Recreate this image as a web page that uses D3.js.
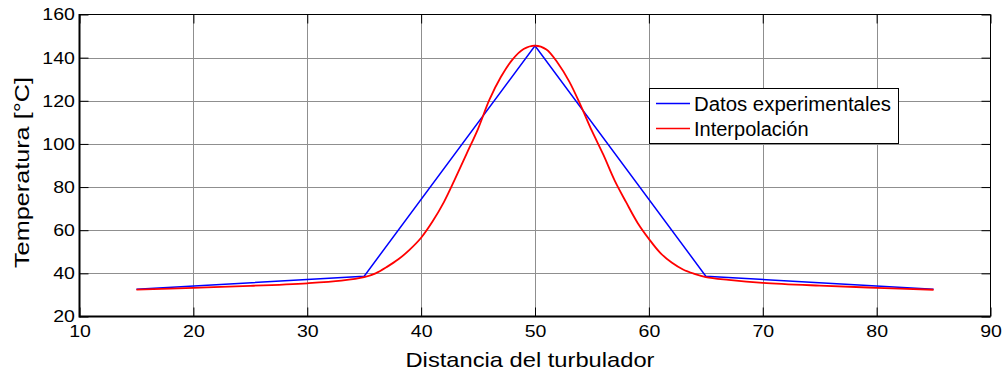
<!DOCTYPE html>
<html><head><meta charset="utf-8">
<script src="https://cdn.jsdelivr.net/npm/d3@7"></script>
<style>
body{margin:0;background:#fff;}
text{font-family:"Liberation Sans",Arial,sans-serif;fill:#000;}
</style></head><body>
<svg id="c" width="1007" height="372"></svg>
<script>
const xTicks = [10,20,30,40,50,60,70,80,90];
const yTicks = [20,40,60,80,100,120,140,160];
const expX = [15,35,50,65,85];
const expY = [32.6,38.7,145.5,38.7,32.6];
const interpX = [15,20,25,30,33,35,36,37,38,39,40,41,42,43,44,45,46,47,48,49,50,51,52,53,54,55,56,57,58,59,60,61,62,63,64,65,67,70,75,80,85];
const interpY = [32.5,33.3,34.2,35.4,36.6,38.2,40,43,46.5,51,56.5,64,73,84,95.5,107,120.5,131,139,144,145.6,143.8,137.5,129,118,106,95,83,73,63.5,56,49.5,45,41.8,39.8,38.3,37,35.6,34.3,33.3,32.4];
const seriesNames = ["Datos experimentales","Interpolación"];
const xLabel = "Distancia del turbulador";
const yLabel = "Temperatura [°C]";

const svg = d3.select("#c");
const x = d3.scaleLinear().domain([10,90]).range([79.5,990.5]);
const y = d3.scaleLinear().domain([20,160]).range([316.5,14.5]);

// grid
const g = svg.append("g");
g.selectAll(".gx").data(xTicks.slice(1,-1)).enter().append("line")
 .attr("x1",d=>Math.round(x(d))+0.5).attr("x2",d=>Math.round(x(d))+0.5)
 .attr("y1",y(20)).attr("y2",y(160)).attr("stroke","#8f8f8f").attr("stroke-width",1);
g.selectAll(".gy").data(yTicks.slice(1,-1)).enter().append("line")
 .attr("y1",d=>Math.round(y(d))+0.5).attr("y2",d=>Math.round(y(d))+0.5)
 .attr("x1",x(10)).attr("x2",x(90)).attr("stroke","#8f8f8f").attr("stroke-width",1);

// axes
const fmt = d3.format("d");
const axB = svg.append("g").attr("transform",`translate(0,${y(20)})`)
 .call(d3.axisBottom(x).tickValues(xTicks).tickSize(-9).tickPadding(8).tickFormat(fmt));
const axT = svg.append("g").attr("transform",`translate(0,${y(160)})`)
 .call(d3.axisTop(x).tickValues(xTicks).tickSize(-9).tickFormat(""));
const axL = svg.append("g").attr("transform",`translate(${x(10)},0)`)
 .call(d3.axisLeft(y).tickValues(yTicks).tickSize(-9).tickPadding(4).tickFormat(fmt));
const axR = svg.append("g").attr("transform",`translate(${x(90)},0)`)
 .call(d3.axisRight(y).tickValues(yTicks).tickSize(-9).tickFormat(""));
[axB,axT,axL,axR].forEach(a=>{
  a.select(".domain").remove();
  a.selectAll("line").attr("stroke","#000");
  a.selectAll("text").attr("font-size",17).attr("font-family","Liberation Sans, Arial, sans-serif").attr("fill","#000");
});
axB.selectAll("text").attr("transform","scale(1.15,1)");
axL.selectAll("text").attr("transform","scale(1.15,1)");

// box
svg.append("line").attr("x1",x(10)).attr("x2",x(90)).attr("y1",y(160)).attr("y2",y(160)).attr("stroke","#000").attr("stroke-width",1);
svg.append("line").attr("x1",x(90)).attr("x2",x(90)).attr("y1",y(160)).attr("y2",y(20)).attr("stroke","#000").attr("stroke-width",1);
svg.append("line").attr("x1",x(10)).attr("x2",x(90)).attr("y1",y(20)).attr("y2",y(20)).attr("stroke","#000").attr("stroke-width",2);
svg.append("line").attr("x1",x(10)).attr("x2",x(10)).attr("y1",y(160)-0.5).attr("y2",y(20)+1).attr("stroke","#000").attr("stroke-width",2);

// series
const line = d3.line().x(d=>x(d[0])).y(d=>y(d[1]));
svg.append("path").datum(expX.map((v,i)=>[v,expY[i]]))
 .attr("d",line).attr("fill","none").attr("stroke","#0000ff").attr("stroke-width",1.5);
svg.append("path").datum(interpX.map((v,i)=>[v,interpY[i]]))
 .attr("d",d3.line().x(d=>x(d[0])).y(d=>y(d[1])).curve(d3.curveCatmullRom.alpha(0.5)))
 .attr("fill","none").attr("stroke","#ff0000").attr("stroke-width",1.8);

// labels
svg.append("text").attr("x",530).attr("y",366.5).attr("text-anchor","middle")
 .attr("font-size",21).attr("textLength",249).attr("lengthAdjust","spacingAndGlyphs").text(xLabel);
svg.append("text").attr("transform","translate(28.5,172.5) rotate(-90)").attr("text-anchor","middle")
 .attr("font-size",21).attr("textLength",191).attr("lengthAdjust","spacingAndGlyphs").text(yLabel);

// legend
const lg = svg.append("g");
lg.append("rect").attr("x",649.5).attr("y",88.5).attr("width",249).attr("height",55)
 .attr("fill","#fff").attr("stroke","#000").attr("stroke-width",1);
const colors = ["#0000ff","#ff0000"];
seriesNames.forEach((n,i)=>{
  const yy = 103.5 + i*25;
  lg.append("line").attr("x1",656).attr("x2",690).attr("y1",yy).attr("y2",yy).attr("stroke",colors[i]).attr("stroke-width",1.5);
  const t = lg.append("text").attr("x",694).attr("y",yy+7).attr("font-size",20).text(n);
  if(i===0) t.attr("textLength",197).attr("lengthAdjust","spacingAndGlyphs");
});
</script></body></html>
